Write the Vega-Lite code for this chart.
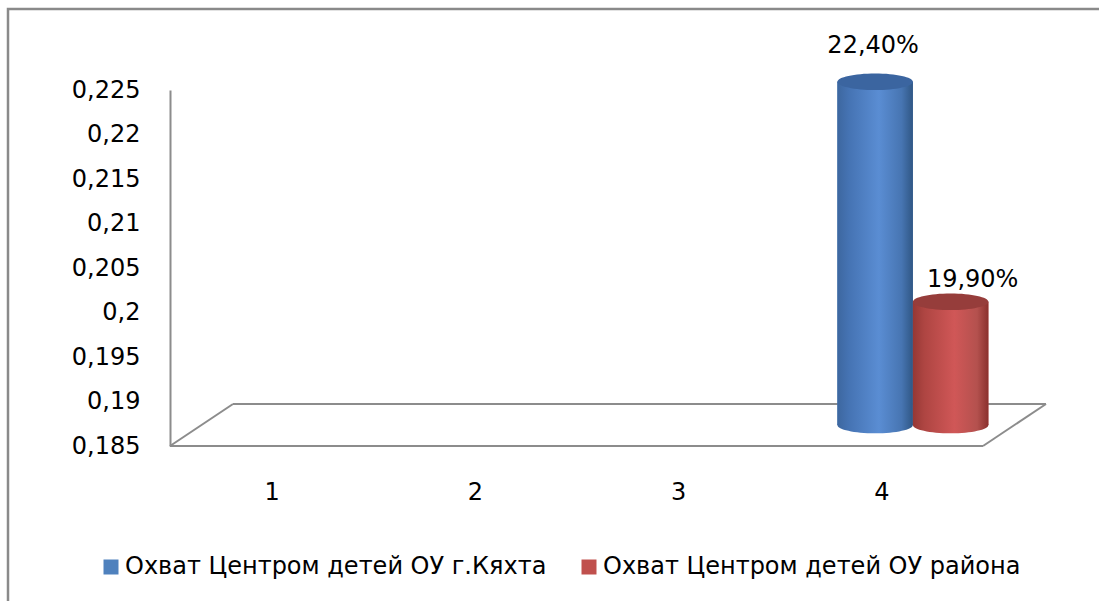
{
  "$schema": "https://vega.github.io/schema/vega-lite/v6.json",
  "width": 1101,
  "height": 602,
  "autosize": {"type": "none"},
  "padding": {"left": 8, "top": 9, "right": -10, "bottom": -10},
  "background": "white",
  "config": {
    "view": {"stroke": "#8a8a8a", "strokeWidth": 2.5},
    "locale": {"number": {"decimal": ",", "thousands": "\u00a0", "grouping": [3], "currency": ["", " руб."]}},
    "axis": {"labelFont": "DejaVu Sans", "labelFontSize": 24, "labelColor": "#000000", "grid": false, "ticks": false, "domain": false, "title": null}
  },
  "datasets": {
    "bars": [
      {"cat": "4", "series": "Охват Центром детей ОУ г.Кяхта", "value": 0.224},
      {"cat": "4", "series": "Охват Центром детей ОУ района", "value": 0.199}
    ]
  },
  "data": {"name": "bars"},
  "layer": [
    {
      "transform": [{"filter": "datum.series === 'Охват Центром детей ОУ г.Кяхта'"}],
      "layer": [
        {
          "mark": {"type": "rule", "color": "#8c8c8c", "strokeWidth": 2},
          "encoding": {
            "x": {"datum": 0.5, "type": "quantitative", "scale": {"domain": [0.5, 4.5], "range": [162, 975], "nice": false, "zero": false},
                  "axis": {"orient": "bottom", "values": [1, 2, 3, 4], "format": "d", "offset": -165, "labelPadding": 34, "title": null}},
            "x2": {"datum": 4.5},
            "y": {"datum": 0.185, "type": "quantitative", "scale": {"domain": [0.185, 0.225], "range": [437, 81], "nice": false, "zero": false},
                  "axis": {"orient": "left", "values": [0.185, 0.19, 0.195, 0.2, 0.205, 0.21, 0.215, 0.22, 0.225], "format": "~g", "offset": -162, "labelPadding": 30, "domain": true, "domainColor": "#8c8c8c", "domainWidth": 2, "title": null}}
          }
        },
        {
          "mark": {"type": "rule", "color": "#8c8c8c", "strokeWidth": 2},
          "encoding": {
            "x": {"datum": 0.81, "type": "quantitative"},
            "x2": {"datum": 4.81},
            "y": {"datum": 0.18972, "type": "quantitative"}
          }
        },
        {
          "mark": {"type": "rule", "color": "#8c8c8c", "strokeWidth": 2},
          "encoding": {
            "x": {"datum": 0.5, "type": "quantitative"},
            "x2": {"datum": 0.81},
            "y": {"datum": 0.185, "type": "quantitative"},
            "y2": {"datum": 0.18972}
          }
        },
        {
          "mark": {"type": "rule", "color": "#8c8c8c", "strokeWidth": 2},
          "encoding": {
            "x": {"datum": 4.5, "type": "quantitative"},
            "x2": {"datum": 4.81},
            "y": {"datum": 0.185, "type": "quantitative"},
            "y2": {"datum": 0.18972}
          }
        }
      ]
    },
    {
      "encoding": {
        "x": {"field": "cat", "type": "nominal", "scale": {"domain": ["1", "2", "3", "4"], "range": [193.5, 1006.5], "paddingInner": 0.257, "paddingOuter": 0.1285}, "axis": null},
        "xOffset": {"field": "series", "type": "nominal", "scale": {"domain": ["Охват Центром детей ОУ г.Кяхта", "Охват Центром детей ОУ района"], "paddingInner": 0, "paddingOuter": 0}},
        "y": {"field": "value", "type": "quantitative", "scale": {"domain": [0.185, 0.225], "range": [416, 64], "nice": false, "zero": false}, "axis": null}
      },
      "layer": [
        {
          "mark": {"type": "point", "shape": "M -1 0 A 1 0.22 0 1 1 1 0 A 1 0.22 0 1 1 -1 0 Z", "size": 5700, "filled": true, "strokeWidth": 0, "opacity": 1},
          "encoding": {
            "y": {"datum": 0.185, "type": "quantitative"},
            "fill": {
              "condition": {"test": "datum.series === 'Охват Центром детей ОУ г.Кяхта'",
                "value": {"gradient": "linear", "x1": 0, "y1": 0, "x2": 1, "y2": 0, "stops": [{"offset": 0, "color": "#3d679f"}, {"offset": 0.15, "color": "#4573b3"}, {"offset": 0.55, "color": "#5a8dd3"}, {"offset": 0.85, "color": "#4775b2"}, {"offset": 1, "color": "#305785"}]}},
              "value": {"gradient": "linear", "x1": 0, "y1": 0, "x2": 1, "y2": 0, "stops": [{"offset": 0, "color": "#963835"}, {"offset": 0.15, "color": "#ae4542"}, {"offset": 0.55, "color": "#d05757"}, {"offset": 0.85, "color": "#b4514e"}, {"offset": 1, "color": "#8a302d"}]}
            }
          }
        },
        {
          "mark": {"type": "bar"},
          "encoding": {
            "y2": {"datum": 0.185},
            "color": {"field": "series", "type": "nominal",
              "scale": {"domain": ["Охват Центром детей ОУ г.Кяхта", "Охват Центром детей ОУ района"], "range": ["#4f81bd", "#c0504d"]},
              "legend": {"orient": "none", "legendX": 91, "legendY": 546, "direction": "horizontal", "title": null, "symbolType": "square", "symbolSize": 225, "symbolStrokeWidth": 0, "labelFont": "DejaVu Sans", "labelFontSize": 24, "labelColor": "#000000", "columnPadding": 30, "labelOffset": 2, "labelLimit": 0, "padding": 0}}
          }
        },
        {
          "mark": {"type": "bar"},
          "encoding": {
            "y2": {"datum": 0.185},
            "fill": {
              "condition": {"test": "datum.series === 'Охват Центром детей ОУ г.Кяхта'",
                "value": {"gradient": "linear", "x1": 0, "y1": 0, "x2": 1, "y2": 0, "stops": [{"offset": 0, "color": "#3d679f"}, {"offset": 0.15, "color": "#4573b3"}, {"offset": 0.55, "color": "#5a8dd3"}, {"offset": 0.85, "color": "#4775b2"}, {"offset": 1, "color": "#305785"}]}},
              "value": {"gradient": "linear", "x1": 0, "y1": 0, "x2": 1, "y2": 0, "stops": [{"offset": 0, "color": "#963835"}, {"offset": 0.15, "color": "#ae4542"}, {"offset": 0.55, "color": "#d05757"}, {"offset": 0.85, "color": "#b4514e"}, {"offset": 1, "color": "#8a302d"}]}
            }
          }
        },
        {
          "mark": {"type": "point", "shape": "M -1 0 A 1 0.22 0 1 1 1 0 A 1 0.22 0 1 1 -1 0 Z", "size": 5700, "filled": true, "strokeWidth": 0, "opacity": 1},
          "encoding": {
            "fill": {
              "condition": {"test": "datum.series === 'Охват Центром детей ОУ г.Кяхта'", "value": "#3b65a0"},
              "value": "#963d3b"
            }
          }
        },
        {
          "transform": [{"filter": "datum.series === 'Охват Центром детей ОУ г.Кяхта'"}],
          "mark": {"type": "text", "font": "DejaVu Sans", "fontSize": 24, "color": "#000000", "baseline": "middle", "align": "center", "dx": -2, "dy": -36},
          "encoding": {"text": {"field": "value", "type": "quantitative", "format": ".2%"}}
        },
        {
          "transform": [{"filter": "datum.series === 'Охват Центром детей ОУ района'"}],
          "mark": {"type": "text", "font": "DejaVu Sans", "fontSize": 24, "color": "#000000", "baseline": "middle", "align": "center", "dx": 22, "dy": -22},
          "encoding": {"text": {"field": "value", "type": "quantitative", "format": ".2%"}}
        }
      ]
    }
  ],
  "resolve": {"scale": {"x": "independent", "y": "independent"}}
}
